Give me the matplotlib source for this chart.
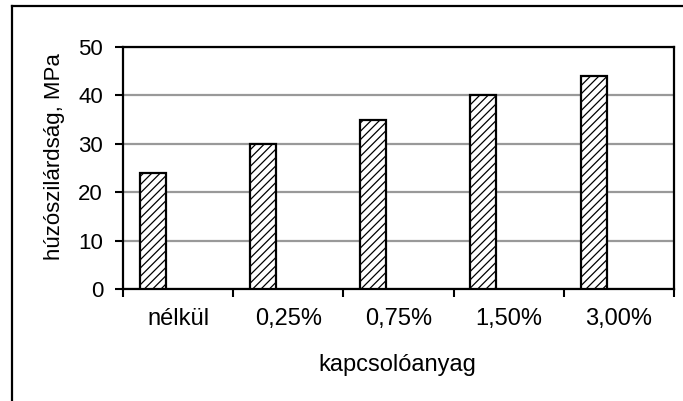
import matplotlib
matplotlib.use("Agg")
import matplotlib.pyplot as plt
from matplotlib.lines import Line2D
import numpy as np

categories = ["nélkül", "0,25%", "0,75%", "1,50%", "3,00%"]
values = [24, 30, 35, 40, 44]
yticks = [0, 10, 20, 30, 40, 50]

plt.rcParams['font.family'] = ['Liberation Sans', 'DejaVu Sans']
plt.rcParams['hatch.linewidth'] = 0.9
plt.rcParams['hatch.color'] = '#333333'

fig = plt.figure(figsize=(6.83, 4.01), dpi=100)
ax = fig.add_axes([123/683, 1-289/401, (674-123)/683, (289-47)/401])

x = np.arange(len(categories))
ax.bar(x + 0.27, values, width=0.235, color='white', edgecolor='black',
       linewidth=1.6, hatch='////', zorder=3)

ax.set_xlim(0, len(categories))
ax.set_ylim(0, 50)
ax.set_yticks(yticks)
ax.yaxis.grid(True, color='#999999', linewidth=1.6, zorder=0)
ax.set_axisbelow(True)

ax.set_xticks(np.arange(len(categories) + 1))
ax.set_xticklabels([])
ax.set_xticks(x + 0.5, minor=True)
ax.set_xticklabels(categories, minor=True)
ax.tick_params(axis='x', which='minor', length=0, pad=14, labelsize=17)
ax.tick_params(axis='x', which='major', length=6, width=1.5, direction='out')
ax.tick_params(axis='y', length=6, width=1.5, pad=8.4, labelsize=16)

for s in ax.spines.values():
    s.set_linewidth(1.6)
    s.set_color('black')

ax.set_xlabel("kapcsolóanyag", fontsize=17)
ax.set_ylabel("húzószilárdság, MPa", fontsize=16)
ax.xaxis.set_label_coords(0.498, -0.27)
ax.yaxis.set_label_coords(-0.105, 0.547)

fig.add_artist(Line2D([12/683, 12/683], [0, 1-6/401], transform=fig.transFigure,
                      color='black', linewidth=1.6))
fig.add_artist(Line2D([12/683, 1], [1-6/401, 1-6/401], transform=fig.transFigure,
                      color='black', linewidth=1.6))

fig.savefig("out.png", dpi=100)
